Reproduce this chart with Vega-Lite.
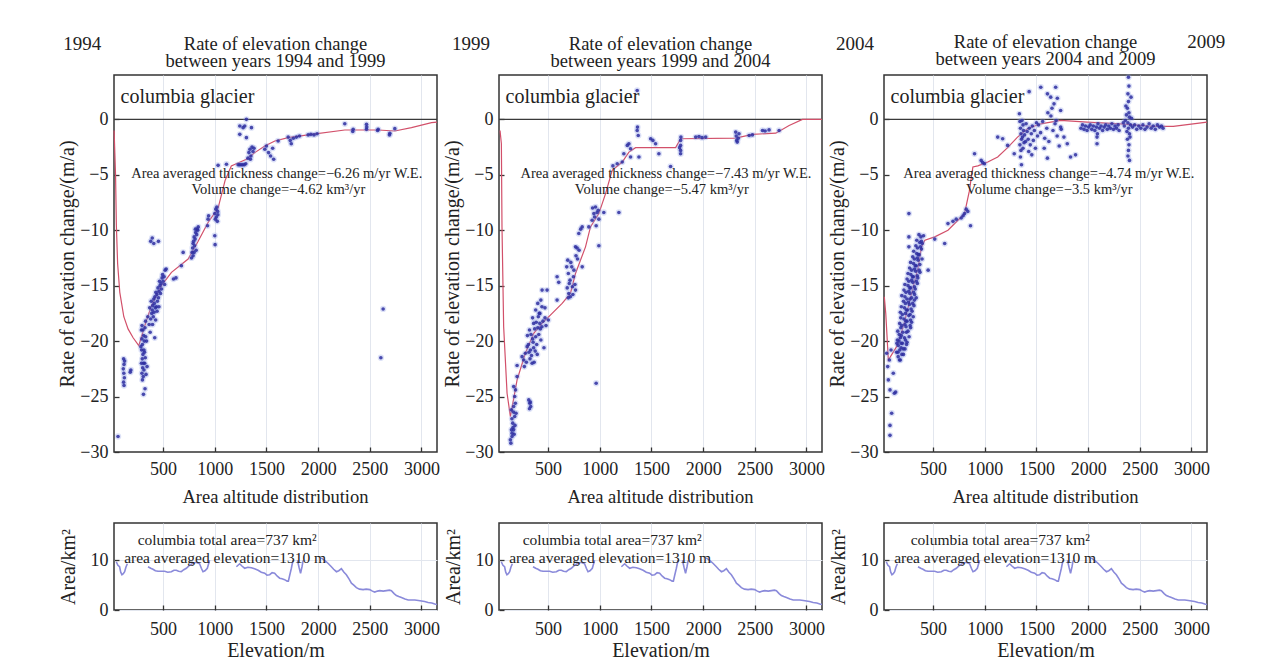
{
  "$schema": "https://vega.github.io/schema/vega-lite/v6.json",
  "background": "white",
  "padding": {"left": 57, "top": 31, "right": 5, "bottom": 5},
  "config": {
    "font": "Liberation Serif",
    "view": {"stroke": "#333333", "strokeWidth": 1.5},
    "axis": {
      "labelFont": "Liberation Serif", "labelFontSize": 18, "labelColor": "#222222",
      "titleFont": "Liberation Serif", "titleFontSize": 20, "titleFontWeight": "normal", "titleColor": "#222222",
      "gridColor": "#e2e6ee", "gridWidth": 1, "domain": false,
      "tickColor": "#333333", "tickSize": -5, "tickWidth": 1.3,
      "labelFlush": false, "labelOverlap": false, "format": "d"
    },
    "axisX": {"labelPadding": 13},
    "axisY": {"labelPadding": 11, "titlePadding": 2},
    "title": {"font": "Liberation Serif", "fontSize": 18.5, "fontWeight": "normal", "color": "#222222", "baseline": "bottom", "lineHeight": 17},
    "text": {"font": "Liberation Serif", "color": "#222222"}
  },
  "datasets": {
    "pts1": [
      {"elev":64,"rate":-28.6},{"elev":118,"rate":-21.6},{"elev":122,"rate":-22.1},{"elev":115,"rate":-22.5},{"elev":120,"rate":-22.9},{"elev":125,"rate":-23.3},{"elev":118,"rate":-23.7},{"elev":122,"rate":-24.0},{"elev":128,"rate":-21.8},{"elev":182,"rate":-22.8},{"elev":188,"rate":-22.6},
      {"elev":290,"rate":-19.0},{"elev":295,"rate":-19.8},{"elev":300,"rate":-20.3},{"elev":292,"rate":-20.8},{"elev":305,"rate":-21.2},{"elev":298,"rate":-21.6},{"elev":310,"rate":-22.0},{"elev":302,"rate":-22.4},{"elev":295,"rate":-22.9},{"elev":308,"rate":-23.2},{"elev":315,"rate":-22.6},{"elev":320,"rate":-21.0},{"elev":318,"rate":-20.0},{"elev":285,"rate":-20.5},{"elev":312,"rate":-19.5},{"elev":325,"rate":-18.8},{"elev":330,"rate":-18.2},{"elev":322,"rate":-22.0},{"elev":335,"rate":-23.0},{"elev":300,"rate":-23.5},{"elev":290,"rate":-22.0},{"elev":305,"rate":-19.0},{"elev":315,"rate":-20.8},{"elev":328,"rate":-21.5},{"elev":340,"rate":-20.0},{"elev":345,"rate":-22.3},{"elev":310,"rate":-24.8},{"elev":325,"rate":-24.3},{"elev":296,"rate":-18.6},{"elev":332,"rate":-19.6},
      {"elev":380,"rate":-18.0},{"elev":390,"rate":-17.5},{"elev":400,"rate":-16.8},{"elev":395,"rate":-17.2},{"elev":410,"rate":-16.2},{"elev":405,"rate":-17.8},{"elev":420,"rate":-16.0},{"elev":415,"rate":-16.6},{"elev":430,"rate":-15.6},{"elev":425,"rate":-17.0},{"elev":440,"rate":-15.8},{"elev":445,"rate":-16.4},{"elev":450,"rate":-15.2},{"elev":435,"rate":-16.9},{"elev":460,"rate":-15.5},{"elev":455,"rate":-16.1},{"elev":470,"rate":-15.0},{"elev":465,"rate":-14.6},{"elev":480,"rate":-14.8},{"elev":475,"rate":-15.7},{"elev":490,"rate":-14.3},{"elev":485,"rate":-15.3},{"elev":500,"rate":-14.6},{"elev":495,"rate":-14.0},{"elev":510,"rate":-14.2},{"elev":520,"rate":-13.6},{"elev":515,"rate":-14.9},{"elev":530,"rate":-13.5},{"elev":370,"rate":-17.0},{"elev":385,"rate":-16.4},{"elev":398,"rate":-18.5},{"elev":412,"rate":-17.4},{"elev":428,"rate":-18.1},{"elev":442,"rate":-17.3},{"elev":460,"rate":-16.9},{"elev":375,"rate":-19.2},{"elev":365,"rate":-18.5},{"elev":352,"rate":-17.8},
      {"elev":395,"rate":-10.7},{"elev":410,"rate":-11.2},{"elev":380,"rate":-11.0},{"elev":455,"rate":-11.0},{"elev":419,"rate":-19.7},
      {"elev":600,"rate":-14.4},{"elev":625,"rate":-14.3},{"elev":677,"rate":-13.2},{"elev":694,"rate":-12.0},
      {"elev":775,"rate":-12.5},{"elev":780,"rate":-12.0},{"elev":785,"rate":-11.6},{"elev":790,"rate":-11.2},{"elev":795,"rate":-11.0},{"elev":800,"rate":-10.6},{"elev":805,"rate":-11.4},{"elev":810,"rate":-10.8},{"elev":815,"rate":-10.2},{"elev":820,"rate":-11.8},{"elev":825,"rate":-10.4},{"elev":830,"rate":-9.9},{"elev":835,"rate":-10.0},{"elev":840,"rate":-9.7},{"elev":790,"rate":-12.3},{"elev":800,"rate":-12.0},{"elev":812,"rate":-9.9},
      {"elev":930,"rate":-9.6},{"elev":935,"rate":-9.0},{"elev":940,"rate":-8.7},
      {"elev":1000,"rate":-8.5},{"elev":1010,"rate":-8.1},{"elev":1015,"rate":-8.8},{"elev":1020,"rate":-7.9},{"elev":1028,"rate":-8.3},{"elev":1030,"rate":-8.6},{"elev":1005,"rate":-9.0},{"elev":1025,"rate":-9.2},{"elev":1000,"rate":-10.5},{"elev":1003,"rate":-11.3},
      {"elev":1032,"rate":-4.15},{"elev":1113,"rate":-4.05},{"elev":1226,"rate":-4.1},{"elev":1240,"rate":-4.1},{"elev":1255,"rate":-4.1},{"elev":1270,"rate":-4.1},{"elev":1285,"rate":-4.1},{"elev":1300,"rate":-4.0},
      {"elev":1306,"rate":0.0},{"elev":1242,"rate":-0.6},{"elev":1274,"rate":-0.75},{"elev":1355,"rate":-0.75},{"elev":1242,"rate":-1.35},{"elev":1306,"rate":-1.65},{"elev":1290,"rate":-0.6},
      {"elev":1330,"rate":-3.0},{"elev":1340,"rate":-2.7},{"elev":1350,"rate":-3.3},{"elev":1360,"rate":-2.5},{"elev":1370,"rate":-2.9},{"elev":1320,"rate":-3.5},{"elev":1345,"rate":-3.6},{"elev":1380,"rate":-2.6},
      {"elev":1484,"rate":-2.7},{"elev":1500,"rate":-2.4},{"elev":1520,"rate":-3.0},{"elev":1540,"rate":-3.3},{"elev":1560,"rate":-2.6},{"elev":1570,"rate":-3.6},{"elev":1613,"rate":-1.95},
      {"elev":1710,"rate":-1.6},{"elev":1730,"rate":-1.9},{"elev":1740,"rate":-2.2},{"elev":1760,"rate":-1.7},{"elev":1790,"rate":-1.6},{"elev":1820,"rate":-1.5},
      {"elev":1903,"rate":-1.4},{"elev":1930,"rate":-1.35},{"elev":1960,"rate":-1.4},{"elev":1990,"rate":-1.3},
      {"elev":2258,"rate":-0.4},{"elev":2339,"rate":-0.9},{"elev":2335,"rate":-1.1},{"elev":2468,"rate":-0.45},{"elev":2468,"rate":-0.9},{"elev":2470,"rate":-0.7},{"elev":2581,"rate":-0.9},{"elev":2575,"rate":-1.0},{"elev":2694,"rate":-1.26},{"elev":2690,"rate":-1.4},{"elev":2742,"rate":-0.84},
      {"elev":2629,"rate":-17.1},{"elev":2607,"rate":-21.5}
    ],
    "pts2": [
      {"elev":135,"rate":-28.9},{"elev":151,"rate":-28.6},{"elev":167,"rate":-28.0},{"elev":158,"rate":-27.4},{"elev":177,"rate":-26.8},{"elev":145,"rate":-26.2},{"elev":167,"rate":-25.9},{"elev":183,"rate":-25.6},{"elev":190,"rate":-26.5},{"elev":151,"rate":-28.3},{"elev":140,"rate":-29.2},{"elev":160,"rate":-27.8},{"elev":172,"rate":-28.4},{"elev":150,"rate":-27.0},{"elev":165,"rate":-26.4},{"elev":180,"rate":-27.6},{"elev":145,"rate":-28.0},
      {"elev":167,"rate":-24.1},{"elev":200,"rate":-23.2},{"elev":177,"rate":-25.0},{"elev":185,"rate":-24.4},{"elev":200,"rate":-22.2},
      {"elev":313,"rate":-25.3},{"elev":323,"rate":-25.6},{"elev":332,"rate":-25.9},{"elev":320,"rate":-26.1},{"elev":328,"rate":-25.5},
      {"elev":264,"rate":-21.7},{"elev":280,"rate":-21.1},{"elev":297,"rate":-20.5},{"elev":248,"rate":-21.4},{"elev":270,"rate":-22.3},{"elev":290,"rate":-21.9},
      {"elev":300,"rate":-19.5},{"elev":310,"rate":-20.3},{"elev":320,"rate":-19.0},{"elev":330,"rate":-20.8},{"elev":340,"rate":-21.3},{"elev":350,"rate":-19.8},{"elev":360,"rate":-20.6},{"elev":370,"rate":-18.9},{"elev":345,"rate":-22.0},{"elev":335,"rate":-19.4},{"elev":315,"rate":-21.0},{"elev":325,"rate":-21.6},{"elev":355,"rate":-20.1},{"elev":365,"rate":-21.9},{"elev":380,"rate":-19.6},{"elev":390,"rate":-20.3},{"elev":400,"rate":-18.8},{"elev":410,"rate":-19.4},{"elev":420,"rate":-18.4},{"elev":430,"rate":-19.9},{"elev":440,"rate":-18.7},{"elev":450,"rate":-18.2},{"elev":460,"rate":-20.6},{"elev":375,"rate":-20.9},{"elev":385,"rate":-18.3},{"elev":395,"rate":-21.2},{"elev":405,"rate":-17.8},{"elev":415,"rate":-17.5},{"elev":425,"rate":-18.9},{"elev":470,"rate":-17.9},
      {"elev":350,"rate":-17.9},{"elev":380,"rate":-17.2},{"elev":400,"rate":-16.6},{"elev":420,"rate":-17.5},{"elev":440,"rate":-16.9},{"elev":360,"rate":-18.4},{"elev":430,"rate":-16.3},
      {"elev":470,"rate":-17.0},{"elev":502,"rate":-18.1},{"elev":480,"rate":-18.6},{"elev":490,"rate":-15.4},{"elev":442,"rate":-15.4},{"elev":587,"rate":-16.3},{"elev":587,"rate":-14.2},{"elev":603,"rate":-14.7},
      {"elev":680,"rate":-13.3},{"elev":696,"rate":-13.9},{"elev":712,"rate":-14.5},{"elev":690,"rate":-12.7},{"elev":729,"rate":-13.3},{"elev":745,"rate":-14.2},{"elev":735,"rate":-15.1},{"elev":765,"rate":-15.4},{"elev":700,"rate":-15.7},{"elev":720,"rate":-12.9},{"elev":705,"rate":-14.8},{"elev":750,"rate":-13.6},{"elev":685,"rate":-15.2},{"elev":760,"rate":-14.9},{"elev":740,"rate":-15.8},{"elev":715,"rate":-16.0},{"elev":695,"rate":-16.1},
      {"elev":765,"rate":-11.5},{"elev":781,"rate":-11.6},{"elev":770,"rate":-12.3},{"elev":785,"rate":-12.6},{"elev":800,"rate":-11.8},{"elev":797,"rate":-10.3},{"elev":830,"rate":-9.7},{"elev":815,"rate":-9.9},{"elev":830,"rate":-13.3},
      {"elev":894,"rate":-9.7},{"elev":926,"rate":-9.1},{"elev":943,"rate":-8.5},{"elev":959,"rate":-7.9},{"elev":975,"rate":-8.4},{"elev":991,"rate":-9.0},{"elev":965,"rate":-9.6},{"elev":930,"rate":-8.0},{"elev":950,"rate":-8.8},{"elev":985,"rate":-8.2},
      {"elev":1039,"rate":-8.4},{"elev":991,"rate":-11.4},{"elev":1185,"rate":-8.4},{"elev":965,"rate":-23.8},
      {"elev":1127,"rate":-4.2},{"elev":1169,"rate":-4.0},{"elev":1217,"rate":-3.85},{"elev":1233,"rate":-3.1},{"elev":1266,"rate":-2.35},{"elev":1298,"rate":-2.65},{"elev":1282,"rate":-2.2},{"elev":1298,"rate":-3.4},{"elev":1362,"rate":-1.0},{"elev":1372,"rate":-1.45},{"elev":1365,"rate":-0.7},{"elev":1379,"rate":-3.4},{"elev":1492,"rate":-1.75},{"elev":1540,"rate":-2.2},{"elev":1514,"rate":-1.9},{"elev":1572,"rate":-3.1},{"elev":1685,"rate":-4.25},
      {"elev":1782,"rate":-1.9},{"elev":1782,"rate":-2.35},{"elev":1782,"rate":-2.8},{"elev":1785,"rate":-1.6},{"elev":1782,"rate":-3.1},{"elev":1772,"rate":-2.55},
      {"elev":1928,"rate":-1.6},{"elev":1960,"rate":-1.55},{"elev":1990,"rate":-1.65},{"elev":2025,"rate":-1.6},
      {"elev":2315,"rate":-1.15},{"elev":2320,"rate":-1.5},{"elev":2325,"rate":-1.9},{"elev":2330,"rate":-2.05},{"elev":2347,"rate":-1.3},{"elev":2340,"rate":-1.7},
      {"elev":2445,"rate":-1.45},{"elev":2477,"rate":-1.4},{"elev":2574,"rate":-1.0},{"elev":2600,"rate":-1.05},{"elev":2638,"rate":-0.95},{"elev":2735,"rate":-1.0},{"elev":1362,"rate":2.6}
    ],
    "pts3": [
      {"elev":51,"rate":-21.1},{"elev":61,"rate":-22.3},{"elev":67,"rate":-23.5},{"elev":77,"rate":-21.7},{"elev":83,"rate":-24.4},{"elev":93,"rate":-20.8},{"elev":83,"rate":-27.6},{"elev":83,"rate":-28.5},{"elev":99,"rate":-26.5},{"elev":125,"rate":-24.7},{"elev":138,"rate":-24.6},{"elev":115,"rate":-22.9},
      {"elev":150,"rate":-20.2},{"elev":160,"rate":-21.0},{"elev":175,"rate":-21.7},{"elev":190,"rate":-20.6},{"elev":170,"rate":-20.0},
      {"elev":162,"rate":-21.4},{"elev":183,"rate":-21.7},{"elev":213,"rate":-21.2},
      {"elev":147,"rate":-21.0},{"elev":178,"rate":-20.8},{"elev":198,"rate":-21.2},{"elev":228,"rate":-20.7},
      {"elev":163,"rate":-20.4},{"elev":192,"rate":-20.2},{"elev":212,"rate":-20.7},{"elev":243,"rate":-20.3},
      {"elev":154,"rate":-19.9},{"elev":183,"rate":-19.7},{"elev":203,"rate":-20.2},{"elev":232,"rate":-19.9},{"elev":248,"rate":-20.1},
      {"elev":172,"rate":-19.4},{"elev":193,"rate":-19.5},{"elev":223,"rate":-19.7},{"elev":242,"rate":-19.2},{"elev":268,"rate":-19.6},
      {"elev":158,"rate":-19.1},{"elev":188,"rate":-18.8},{"elev":207,"rate":-19.2},{"elev":238,"rate":-18.7},{"elev":257,"rate":-19.1},{"elev":283,"rate":-18.8},
      {"elev":177,"rate":-18.4},{"elev":197,"rate":-18.6},{"elev":228,"rate":-18.5},{"elev":247,"rate":-18.2},{"elev":278,"rate":-18.6},{"elev":292,"rate":-18.3},
      {"elev":187,"rate":-17.9},{"elev":218,"rate":-18.0},{"elev":237,"rate":-18.2},{"elev":265,"rate":-17.7},{"elev":282,"rate":-18.1},{"elev":308,"rate":-17.8},
      {"elev":183,"rate":-17.4},{"elev":202,"rate":-17.6},{"elev":233,"rate":-17.5},{"elev":252,"rate":-17.2},{"elev":278,"rate":-17.6},{"elev":297,"rate":-17.3},
      {"elev":192,"rate":-16.9},{"elev":223,"rate":-17.0},{"elev":242,"rate":-17.2},{"elev":271,"rate":-16.7},{"elev":287,"rate":-17.1},{"elev":315,"rate":-16.8},
      {"elev":213,"rate":-16.4},{"elev":232,"rate":-16.6},{"elev":261,"rate":-16.5},{"elev":277,"rate":-16.2},{"elev":303,"rate":-16.6},{"elev":319,"rate":-16.3},
      {"elev":197,"rate":-15.9},{"elev":228,"rate":-16.0},{"elev":247,"rate":-16.2},{"elev":275,"rate":-15.7},{"elev":292,"rate":-16.1},{"elev":321,"rate":-15.8},{"elev":337,"rate":-16.1},
      {"elev":218,"rate":-15.4},{"elev":237,"rate":-15.6},{"elev":265,"rate":-15.5},{"elev":282,"rate":-15.2},{"elev":311,"rate":-15.6},{"elev":327,"rate":-15.3},
      {"elev":227,"rate":-14.9},{"elev":258,"rate":-15.0},{"elev":275,"rate":-15.2},{"elev":303,"rate":-14.7},{"elev":319,"rate":-15.1},{"elev":348,"rate":-14.8},
      {"elev":248,"rate":-14.4},{"elev":265,"rate":-14.6},{"elev":293,"rate":-14.5},{"elev":309,"rate":-14.2},{"elev":338,"rate":-14.6},{"elev":352,"rate":-14.3},
      {"elev":257,"rate":-13.9},{"elev":285,"rate":-14.0},{"elev":302,"rate":-14.2},{"elev":331,"rate":-13.7},{"elev":347,"rate":-14.1},{"elev":373,"rate":-13.8},
      {"elev":273,"rate":-13.4},{"elev":292,"rate":-13.6},{"elev":321,"rate":-13.5},{"elev":337,"rate":-13.2},{"elev":365,"rate":-13.6},
      {"elev":282,"rate":-12.9},{"elev":311,"rate":-13.0},{"elev":327,"rate":-13.2},{"elev":355,"rate":-12.7},{"elev":372,"rate":-13.1},
      {"elev":303,"rate":-12.4},{"elev":319,"rate":-12.6},{"elev":348,"rate":-12.5},{"elev":365,"rate":-12.2},{"elev":393,"rate":-12.6},
      {"elev":312,"rate":-11.9},{"elev":341,"rate":-12.1},{"elev":357,"rate":-12.2},{"elev":388,"rate":-11.7},
      {"elev":333,"rate":-11.4},{"elev":349,"rate":-11.6},{"elev":378,"rate":-11.5},{"elev":395,"rate":-11.2},
      {"elev":342,"rate":-10.9},{"elev":371,"rate":-11.1},{"elev":387,"rate":-11.0},
      {"elev":363,"rate":-10.4},{"elev":382,"rate":-10.6},{"elev":408,"rate":-10.5},
      {"elev":266,"rate":-8.5},{"elev":266,"rate":-10.6},{"elev":266,"rate":-11.5},{"elev":452,"rate":-13.6},{"elev":516,"rate":-10.8},{"elev":612,"rate":-11.2},
      {"elev":644,"rate":-9.4},{"elev":692,"rate":-9.2},{"elev":724,"rate":-9.0},{"elev":772,"rate":-8.9},{"elev":804,"rate":-8.5},{"elev":836,"rate":-8.3},{"elev":862,"rate":-9.6},{"elev":790,"rate":-8.7},{"elev":820,"rate":-8.1},
      {"elev":901,"rate":-3.1},{"elev":965,"rate":-3.7},{"elev":997,"rate":-4.0},{"elev":980,"rate":-3.9},
      {"elev":1125,"rate":-1.6},{"elev":1173,"rate":-1.75},{"elev":1221,"rate":-2.35},{"elev":1285,"rate":-3.1},
      {"elev":1335,"rate":0.5},{"elev":1340,"rate":-0.2},{"elev":1345,"rate":-0.8},{"elev":1350,"rate":-1.3},{"elev":1355,"rate":-1.8},{"elev":1340,"rate":-2.3},{"elev":1350,"rate":-2.8},{"elev":1345,"rate":-3.4},{"elev":1355,"rate":-4.1},{"elev":1370,"rate":-0.5},{"elev":1375,"rate":-1.0},{"elev":1365,"rate":-1.6},{"elev":1380,"rate":-2.1},{"elev":1360,"rate":-0.1},{"elev":1370,"rate":-2.6},{"elev":1385,"rate":-1.4},
      {"elev":1400,"rate":-0.4},{"elev":1410,"rate":-1.1},{"elev":1420,"rate":-1.8},{"elev":1430,"rate":-0.8},{"elev":1440,"rate":-2.3},{"elev":1450,"rate":-1.3},{"elev":1460,"rate":-0.6},{"elev":1470,"rate":-1.9},{"elev":1480,"rate":-1.0},{"elev":1490,"rate":-2.6},{"elev":1500,"rate":-0.3},{"elev":1510,"rate":-1.5},{"elev":1395,"rate":-2.0},{"elev":1425,"rate":-2.9},{"elev":1455,"rate":-3.2},
      {"elev":1429,"rate":2.5},{"elev":1542,"rate":2.9},{"elev":1606,"rate":2.3},{"elev":1638,"rate":2.0},{"elev":1686,"rate":2.9},{"elev":1702,"rate":1.9},{"elev":1670,"rate":1.4},{"elev":1734,"rate":0.8},
      {"elev":1520,"rate":-0.5},{"elev":1540,"rate":-1.2},{"elev":1560,"rate":-0.2},{"elev":1580,"rate":-1.7},{"elev":1600,"rate":-0.8},{"elev":1620,"rate":-2.0},{"elev":1640,"rate":0.3},{"elev":1660,"rate":-1.0},{"elev":1680,"rate":-0.4},{"elev":1700,"rate":-1.5},{"elev":1720,"rate":-2.4},{"elev":1740,"rate":-0.9},{"elev":1610,"rate":0.6},{"elev":1650,"rate":1.0},{"elev":1690,"rate":-0.1},{"elev":1575,"rate":-2.6},
      {"elev":1606,"rate":-3.5},{"elev":1830,"rate":-3.4},{"elev":1878,"rate":-3.2},{"elev":1798,"rate":-2.2},{"elev":1734,"rate":-0.7},{"elev":1766,"rate":-1.6},
      {"elev":1930,"rate":-0.8},{"elev":1945,"rate":-0.5},{"elev":1960,"rate":-0.9},{"elev":1975,"rate":-0.6},{"elev":1990,"rate":-1.0},{"elev":2005,"rate":-0.7},{"elev":2020,"rate":-0.5},{"elev":2035,"rate":-0.9},{"elev":2050,"rate":-0.6},{"elev":2065,"rate":-1.0},{"elev":2080,"rate":-0.7},{"elev":2095,"rate":-0.4},{"elev":2110,"rate":-0.8},{"elev":2125,"rate":-0.6},{"elev":2140,"rate":-1.0},{"elev":2155,"rate":-0.7},{"elev":2170,"rate":-0.5},{"elev":2185,"rate":-0.9},{"elev":2200,"rate":-0.6},{"elev":2215,"rate":-0.8},{"elev":2230,"rate":-0.4},{"elev":2245,"rate":-0.9},{"elev":2260,"rate":-0.6},{"elev":2275,"rate":-0.8},{"elev":2290,"rate":-0.5},{"elev":2300,"rate":-1.0},
      {"elev":2086,"rate":-2.2},{"elev":2086,"rate":-1.6},{"elev":2090,"rate":-1.3},
      {"elev":2390,"rate":3.8},{"elev":2395,"rate":3.0},{"elev":2385,"rate":2.3},{"elev":2390,"rate":1.6},{"elev":2380,"rate":1.0},{"elev":2395,"rate":0.6},{"elev":2400,"rate":0.2},{"elev":2385,"rate":-0.3},{"elev":2390,"rate":-0.8},{"elev":2400,"rate":-1.3},{"elev":2380,"rate":-1.8},{"elev":2395,"rate":-2.3},{"elev":2390,"rate":-2.8},{"elev":2385,"rate":-3.3},{"elev":2400,"rate":-3.7},{"elev":2370,"rate":0.4},{"elev":2410,"rate":-0.5},{"elev":2360,"rate":-0.1},{"elev":2420,"rate":0.1},{"elev":2350,"rate":-0.6},{"elev":2375,"rate":-1.1},{"elev":2405,"rate":-1.6},{"elev":2365,"rate":1.2},{"elev":2415,"rate":2.0},{"elev":2340,"rate":-0.3},
      {"elev":2430,"rate":-0.7},{"elev":2450,"rate":-0.5},{"elev":2470,"rate":-0.9},{"elev":2490,"rate":-0.6},{"elev":2510,"rate":-0.8},{"elev":2530,"rate":-0.5},{"elev":2550,"rate":-0.9},{"elev":2570,"rate":-0.7},{"elev":2590,"rate":-0.4},{"elev":2610,"rate":-0.8},{"elev":2630,"rate":-0.6},{"elev":2650,"rate":-0.9},{"elev":2670,"rate":-0.5},{"elev":2690,"rate":-0.7},{"elev":2710,"rate":-0.6},{"elev":2725,"rate":-0.8}
    ],
    "fit1": [
      {"elev":26,"rate":-1.0},{"elev":40,"rate":-5.0},{"elev":48,"rate":-9.6},{"elev":60,"rate":-13.0},{"elev":81,"rate":-15.6},{"elev":120,"rate":-17.8},{"elev":161,"rate":-18.9},{"elev":210,"rate":-19.7},{"elev":265,"rate":-20.4},{"elev":323,"rate":-18.6},{"elev":387,"rate":-16.8},{"elev":484,"rate":-15.0},{"elev":581,"rate":-13.8},{"elev":742,"rate":-12.6},{"elev":839,"rate":-11.0},{"elev":935,"rate":-9.3},{"elev":1032,"rate":-8.0},{"elev":1100,"rate":-5.5},{"elev":1160,"rate":-4.2},{"elev":1306,"rate":-3.6},{"elev":1387,"rate":-3.0},{"elev":1484,"rate":-2.4},{"elev":1581,"rate":-1.95},{"elev":1710,"rate":-1.65},{"elev":1936,"rate":-1.35},{"elev":2258,"rate":-0.96},{"elev":2581,"rate":-0.96},{"elev":2742,"rate":-1.05},{"elev":2903,"rate":-0.75},{"elev":3097,"rate":-0.3},{"elev":3150,"rate":-0.25}
    ],
    "fit2": [
      {"elev":35,"rate":-1.0},{"elev":48,"rate":-2.2},{"elev":54,"rate":-9.7},{"elev":70,"rate":-18.7},{"elev":103,"rate":-24.7},{"elev":135,"rate":-26.8},{"elev":200,"rate":-23.5},{"elev":280,"rate":-21.1},{"elev":361,"rate":-19.3},{"elev":442,"rate":-18.4},{"elev":539,"rate":-17.5},{"elev":636,"rate":-16.6},{"elev":716,"rate":-15.7},{"elev":765,"rate":-13.9},{"elev":862,"rate":-11.5},{"elev":910,"rate":-9.7},{"elev":991,"rate":-8.5},{"elev":1056,"rate":-6.7},{"elev":1120,"rate":-4.6},{"elev":1217,"rate":-3.85},{"elev":1282,"rate":-2.95},{"elev":1346,"rate":-2.55},{"elev":1734,"rate":-2.55},{"elev":1782,"rate":-1.75},{"elev":2315,"rate":-1.7},{"elev":2477,"rate":-1.35},{"elev":2703,"rate":-1.25},{"elev":2832,"rate":-0.55},{"elev":2961,"rate":0.0},{"elev":3150,"rate":0.0}
    ],
    "fit3": [
      {"elev":28,"rate":-16.0},{"elev":42,"rate":-17.5},{"elev":67,"rate":-21.7},{"elev":147,"rate":-20.5},{"elev":212,"rate":-18.7},{"elev":292,"rate":-15.7},{"elev":356,"rate":-13.3},{"elev":388,"rate":-11.5},{"elev":420,"rate":-10.9},{"elev":516,"rate":-10.6},{"elev":644,"rate":-10.0},{"elev":740,"rate":-9.1},{"elev":804,"rate":-8.5},{"elev":850,"rate":-6.5},{"elev":885,"rate":-4.3},{"elev":933,"rate":-4.2},{"elev":1029,"rate":-3.85},{"elev":1125,"rate":-3.4},{"elev":1221,"rate":-2.55},{"elev":1317,"rate":-1.6},{"elev":1413,"rate":-0.85},{"elev":1542,"rate":-0.4},{"elev":1734,"rate":-0.1},{"elev":1990,"rate":-0.25},{"elev":2311,"rate":-0.4},{"elev":2631,"rate":-0.63},{"elev":2824,"rate":-0.63},{"elev":3150,"rate":-0.25}
    ],
    "area": [
      {"seg":"a","elev":47,"area":9.7},{"seg":"a","elev":63,"area":9.0},{"seg":"a","elev":79,"area":8.7},{"seg":"a","elev":90,"area":7.6},{"seg":"a","elev":102,"area":7.1},{"seg":"a","elev":115,"area":7.3},{"seg":"a","elev":128,"area":7.7},{"seg":"a","elev":140,"area":8.6},{"seg":"a","elev":154,"area":9.3},
      {"seg":"b","elev":354,"area":8.7},{"seg":"b","elev":380,"area":8.4},{"seg":"b","elev":402,"area":8.2},{"seg":"b","elev":425,"area":7.9},{"seg":"b","elev":451,"area":7.8},{"seg":"b","elev":480,"area":7.8},{"seg":"b","elev":515,"area":7.8},{"seg":"b","elev":545,"area":7.6},{"seg":"b","elev":580,"area":7.7},{"seg":"b","elev":605,"area":8.0},{"seg":"b","elev":628,"area":8.0},{"seg":"b","elev":650,"area":7.8},{"seg":"b","elev":676,"area":7.7},{"seg":"b","elev":700,"area":8.1},{"seg":"b","elev":725,"area":8.4},{"seg":"b","elev":757,"area":9.0},{"seg":"b","elev":790,"area":9.4},{"seg":"b","elev":820,"area":9.6},{"seg":"b","elev":853,"area":9.3},{"seg":"b","elev":870,"area":8.4},{"seg":"b","elev":886,"area":7.7},{"seg":"b","elev":905,"area":7.9},{"seg":"b","elev":928,"area":8.4},{"seg":"b","elev":950,"area":10.0},
      {"seg":"c","elev":1209,"area":8.7},{"seg":"c","elev":1241,"area":9.3},{"seg":"c","elev":1265,"area":8.8},{"seg":"c","elev":1289,"area":8.4},{"seg":"c","elev":1320,"area":8.6},{"seg":"c","elev":1354,"area":8.5},{"seg":"c","elev":1385,"area":8.3},{"seg":"c","elev":1419,"area":8.0},{"seg":"c","elev":1450,"area":7.6},{"seg":"c","elev":1483,"area":7.4},{"seg":"c","elev":1505,"area":7.0},{"seg":"c","elev":1531,"area":7.1},{"seg":"c","elev":1555,"area":7.5},{"seg":"c","elev":1579,"area":7.4},{"seg":"c","elev":1605,"area":6.8},{"seg":"c","elev":1628,"area":6.4},{"seg":"c","elev":1650,"area":6.3},{"seg":"c","elev":1676,"area":6.1},{"seg":"c","elev":1700,"area":5.8},{"seg":"c","elev":1712,"area":5.8},{"seg":"c","elev":1725,"area":7.0},{"seg":"c","elev":1741,"area":8.4},{"seg":"c","elev":1757,"area":10.0},
      {"seg":"d","elev":1800,"area":10.0},{"seg":"d","elev":1815,"area":8.6},{"seg":"d","elev":1830,"area":7.4},{"seg":"d","elev":1845,"area":8.8},{"seg":"d","elev":1855,"area":10.0},
      {"seg":"e","elev":2030,"area":10.5},{"seg":"e","elev":2063,"area":10.0},{"seg":"e","elev":2095,"area":9.4},{"seg":"e","elev":2128,"area":8.7},{"seg":"e","elev":2150,"area":8.2},{"seg":"e","elev":2177,"area":7.7},{"seg":"e","elev":2200,"area":7.9},{"seg":"e","elev":2225,"area":8.3},{"seg":"e","elev":2250,"area":7.6},{"seg":"e","elev":2273,"area":7.1},{"seg":"e","elev":2300,"area":6.2},{"seg":"e","elev":2322,"area":5.4},{"seg":"e","elev":2345,"area":5.0},{"seg":"e","elev":2370,"area":4.5},{"seg":"e","elev":2400,"area":4.2},{"seg":"e","elev":2435,"area":4.1},{"seg":"e","elev":2465,"area":4.2},{"seg":"e","elev":2499,"area":4.1},{"seg":"e","elev":2525,"area":3.8},{"seg":"e","elev":2547,"area":3.6},{"seg":"e","elev":2575,"area":3.8},{"seg":"e","elev":2596,"area":3.9},{"seg":"e","elev":2630,"area":3.8},{"seg":"e","elev":2661,"area":3.9},{"seg":"e","elev":2690,"area":4.0},{"seg":"e","elev":2709,"area":3.9},{"seg":"e","elev":2735,"area":3.3},{"seg":"e","elev":2757,"area":2.9},{"seg":"e","elev":2780,"area":2.7},{"seg":"e","elev":2806,"area":2.5},{"seg":"e","elev":2840,"area":2.2},{"seg":"e","elev":2871,"area":2.0},{"seg":"e","elev":2900,"area":2.0},{"seg":"e","elev":2935,"area":2.0},{"seg":"e","elev":2970,"area":1.9},{"seg":"e","elev":3000,"area":1.8},{"seg":"e","elev":3030,"area":1.7},{"seg":"e","elev":3064,"area":1.5},{"seg":"e","elev":3100,"area":1.4},{"seg":"e","elev":3128,"area":1.2},{"seg":"e","elev":3150,"area":1.1}
    ]
  },
  "columns": 3,
  "spacing": {"row": 71, "column": 62},
  "bounds": "flush",
  "concat": [
    {
      "width": 323, "height": 377,
      "title": {"text": ["Rate of elevation change", "between years 1994 and 1999"], "offset": -36},
      "layer": [
        {"data": {"values": [{}]}, "mark": {"type": "rule", "color": "#3a3a3a", "strokeWidth": 1.2}, "encoding": {"y": {"datum": 0, "type": "quantitative"}}},
        {"data": {"name": "fit1"}, "mark": {"type": "line", "color": "#d2506a", "strokeWidth": 1.2},
         "encoding": {
           "x": {"field": "elev", "type": "quantitative", "scale": {"domain": [25, 3150], "nice": false, "zero": false}, "axis": {"values": [500, 1000, 1500, 2000, 2500, 3000], "title": null}},
           "y": {"field": "rate", "type": "quantitative", "scale": {"domain": [-30, 4], "nice": false, "zero": false}, "axis": {"values": [-30, -25, -20, -15, -10, -5, 0], "title": "Rate of elevation change/(m/a)"}}}},
        {"data": {"name": "pts1"}, "mark": {"type": "circle", "size": 40, "color": "#8c9be6", "opacity": 0.3}, "encoding": {"x": {"field": "elev", "type": "quantitative"}, "y": {"field": "rate", "type": "quantitative"}}},
        {"data": {"name": "pts1"}, "mark": {"type": "circle", "size": 13, "color": "#2e2ea0", "opacity": 0.85}, "encoding": {"x": {"field": "elev", "type": "quantitative"}, "y": {"field": "rate", "type": "quantitative"}}},
        {"data": {"values": [{"label": "columbia glacier"}]}, "mark": {"type": "text", "align": "left", "baseline": "middle", "fontSize": 20}, "encoding": {"x": {"datum": 88}, "y": {"datum": 2.0}, "text": {"field": "label"}}},
        {"data": {"values": [{"label": "Area averaged thickness change=−6.26 m/yr W.E."}]}, "mark": {"type": "text", "align": "center", "baseline": "middle", "fontSize": 14.5}, "encoding": {"x": {"datum": 1600}, "y": {"datum": -4.95}, "text": {"field": "label"}}},
        {"data": {"values": [{"label": "Volume change=−4.62 km³/yr"}]}, "mark": {"type": "text", "align": "center", "baseline": "middle", "fontSize": 14.5}, "encoding": {"x": {"datum": 1615}, "y": {"datum": -6.35}, "text": {"field": "label"}}},
        {"data": {"values": [{"label": "1994"}]}, "mark": {"type": "text", "align": "center", "baseline": "middle", "fontSize": 19}, "encoding": {"x": {"datum": -282}, "y": {"datum": 6.8}, "text": {"field": "label"}}}
      ]
    },
    {
      "width": 323, "height": 377,
      "title": {"text": ["Rate of elevation change", "between years 1999 and 2004"], "offset": -36},
      "layer": [
        {"data": {"values": [{}]}, "mark": {"type": "rule", "color": "#3a3a3a", "strokeWidth": 1.2}, "encoding": {"y": {"datum": 0, "type": "quantitative"}}},
        {"data": {"name": "fit2"}, "mark": {"type": "line", "color": "#d2506a", "strokeWidth": 1.2},
         "encoding": {
           "x": {"field": "elev", "type": "quantitative", "scale": {"domain": [25, 3150], "nice": false, "zero": false}, "axis": {"values": [500, 1000, 1500, 2000, 2500, 3000], "title": null}},
           "y": {"field": "rate", "type": "quantitative", "scale": {"domain": [-30, 4], "nice": false, "zero": false}, "axis": {"values": [-30, -25, -20, -15, -10, -5, 0], "title": "Rate of elevation change/(m/a)"}}}},
        {"data": {"name": "pts2"}, "mark": {"type": "circle", "size": 40, "color": "#8c9be6", "opacity": 0.3}, "encoding": {"x": {"field": "elev", "type": "quantitative"}, "y": {"field": "rate", "type": "quantitative"}}},
        {"data": {"name": "pts2"}, "mark": {"type": "circle", "size": 13, "color": "#2e2ea0", "opacity": 0.85}, "encoding": {"x": {"field": "elev", "type": "quantitative"}, "y": {"field": "rate", "type": "quantitative"}}},
        {"data": {"values": [{"label": "columbia glacier"}]}, "mark": {"type": "text", "align": "left", "baseline": "middle", "fontSize": 20}, "encoding": {"x": {"datum": 88}, "y": {"datum": 2.0}, "text": {"field": "label"}}},
        {"data": {"values": [{"label": "Area averaged thickness change=−7.43 m/yr W.E."}]}, "mark": {"type": "text", "align": "center", "baseline": "middle", "fontSize": 14.5}, "encoding": {"x": {"datum": 1640}, "y": {"datum": -4.95}, "text": {"field": "label"}}},
        {"data": {"values": [{"label": "Volume change=−5.47 km³/yr"}]}, "mark": {"type": "text", "align": "center", "baseline": "middle", "fontSize": 14.5}, "encoding": {"x": {"datum": 1600}, "y": {"datum": -6.35}, "text": {"field": "label"}}},
        {"data": {"values": [{"label": "1999"}]}, "mark": {"type": "text", "align": "center", "baseline": "middle", "fontSize": 19}, "encoding": {"x": {"datum": -246}, "y": {"datum": 6.8}, "text": {"field": "label"}}}
      ]
    },
    {
      "width": 323, "height": 377,
      "title": {"text": ["Rate of elevation change", "between years 2004 and 2009"], "offset": -36},
      "layer": [
        {"data": {"values": [{}]}, "mark": {"type": "rule", "color": "#3a3a3a", "strokeWidth": 1.2}, "encoding": {"y": {"datum": 0, "type": "quantitative"}}},
        {"data": {"name": "fit3"}, "mark": {"type": "line", "color": "#d2506a", "strokeWidth": 1.2},
         "encoding": {
           "x": {"field": "elev", "type": "quantitative", "scale": {"domain": [25, 3150], "nice": false, "zero": false}, "axis": {"values": [500, 1000, 1500, 2000, 2500, 3000], "title": null}},
           "y": {"field": "rate", "type": "quantitative", "scale": {"domain": [-30, 4], "nice": false, "zero": false}, "axis": {"values": [-30, -25, -20, -15, -10, -5, 0], "title": "Rate of elevation change/(m/a)"}}}},
        {"data": {"name": "pts3"}, "mark": {"type": "circle", "size": 40, "color": "#8c9be6", "opacity": 0.3}, "encoding": {"x": {"field": "elev", "type": "quantitative"}, "y": {"field": "rate", "type": "quantitative"}}},
        {"data": {"name": "pts3"}, "mark": {"type": "circle", "size": 13, "color": "#2e2ea0", "opacity": 0.85}, "encoding": {"x": {"field": "elev", "type": "quantitative"}, "y": {"field": "rate", "type": "quantitative"}}},
        {"data": {"values": [{"label": "columbia glacier"}]}, "mark": {"type": "text", "align": "left", "baseline": "middle", "fontSize": 20}, "encoding": {"x": {"datum": 88}, "y": {"datum": 2.0}, "text": {"field": "label"}}},
        {"data": {"values": [{"label": "Area averaged thickness change=−4.74 m/yr W.E."}]}, "mark": {"type": "text", "align": "center", "baseline": "middle", "fontSize": 14.5}, "encoding": {"x": {"datum": 1620}, "y": {"datum": -4.95}, "text": {"field": "label"}}},
        {"data": {"values": [{"label": "Volume change=−3.5 km³/yr"}]}, "mark": {"type": "text", "align": "center", "baseline": "middle", "fontSize": 14.5}, "encoding": {"x": {"datum": 1625}, "y": {"datum": -6.35}, "text": {"field": "label"}}},
        {"data": {"values": [{"label": "2004"}]}, "mark": {"type": "text", "align": "center", "baseline": "middle", "fontSize": 19}, "encoding": {"x": {"datum": -256}, "y": {"datum": 6.8}, "text": {"field": "label"}}},
        {"data": {"values": [{"label": "2009"}]}, "mark": {"type": "text", "align": "center", "baseline": "middle", "fontSize": 19}, "encoding": {"x": {"datum": 3142}, "y": {"datum": 7.0}, "text": {"field": "label"}}}
      ]
    },
    {
      "width": 323, "height": 87,
      "title": {"text": "Area altitude distribution", "offset": 17},
      "layer": [
        {"data": {"name": "area"}, "mark": {"type": "line", "color": "#8a8ada", "strokeWidth": 1.6},
         "encoding": {
           "x": {"field": "elev", "type": "quantitative", "scale": {"domain": [25, 3150], "nice": false, "zero": false}, "axis": {"values": [500, 1000, 1500, 2000, 2500, 3000], "title": "Elevation/m", "labelPadding": 15, "titlePadding": 2}},
           "y": {"field": "area", "type": "quantitative", "scale": {"domain": [0, 17.5], "nice": false}, "axis": {"values": [0, 10], "title": "Area/km²", "titlePadding": 12}},
           "detail": {"field": "seg"}}},
        {"data": {"values": [{"label": "columbia total area=737 km²"}]}, "mark": {"type": "text", "align": "center", "baseline": "middle", "fontSize": 15.5}, "encoding": {"x": {"datum": 1120}, "y": {"datum": 14.0}, "text": {"field": "label"}}},
        {"data": {"values": [{"label": "area averaged elevation=1310 m"}]}, "mark": {"type": "text", "align": "center", "baseline": "middle", "fontSize": 15.5}, "encoding": {"x": {"datum": 1100}, "y": {"datum": 10.5}, "text": {"field": "label"}}}
      ]
    },
    {
      "width": 323, "height": 87,
      "title": {"text": "Area altitude distribution", "offset": 17},
      "layer": [
        {"data": {"name": "area"}, "mark": {"type": "line", "color": "#8a8ada", "strokeWidth": 1.6},
         "encoding": {
           "x": {"field": "elev", "type": "quantitative", "scale": {"domain": [25, 3150], "nice": false, "zero": false}, "axis": {"values": [500, 1000, 1500, 2000, 2500, 3000], "title": "Elevation/m", "labelPadding": 15, "titlePadding": 2}},
           "y": {"field": "area", "type": "quantitative", "scale": {"domain": [0, 17.5], "nice": false}, "axis": {"values": [0, 10], "title": "Area/km²", "titlePadding": 12}},
           "detail": {"field": "seg"}}},
        {"data": {"values": [{"label": "columbia total area=737 km²"}]}, "mark": {"type": "text", "align": "center", "baseline": "middle", "fontSize": 15.5}, "encoding": {"x": {"datum": 1120}, "y": {"datum": 14.0}, "text": {"field": "label"}}},
        {"data": {"values": [{"label": "area averaged elevation=1310 m"}]}, "mark": {"type": "text", "align": "center", "baseline": "middle", "fontSize": 15.5}, "encoding": {"x": {"datum": 1100}, "y": {"datum": 10.5}, "text": {"field": "label"}}}
      ]
    },
    {
      "width": 323, "height": 87,
      "title": {"text": "Area altitude distribution", "offset": 17},
      "layer": [
        {"data": {"name": "area"}, "mark": {"type": "line", "color": "#8a8ada", "strokeWidth": 1.6},
         "encoding": {
           "x": {"field": "elev", "type": "quantitative", "scale": {"domain": [25, 3150], "nice": false, "zero": false}, "axis": {"values": [500, 1000, 1500, 2000, 2500, 3000], "title": "Elevation/m", "labelPadding": 15, "titlePadding": 2}},
           "y": {"field": "area", "type": "quantitative", "scale": {"domain": [0, 17.5], "nice": false}, "axis": {"values": [0, 10], "title": "Area/km²", "titlePadding": 12}},
           "detail": {"field": "seg"}}},
        {"data": {"values": [{"label": "columbia total area=737 km²"}]}, "mark": {"type": "text", "align": "center", "baseline": "middle", "fontSize": 15.5}, "encoding": {"x": {"datum": 1150}, "y": {"datum": 14.0}, "text": {"field": "label"}}},
        {"data": {"values": [{"label": "area averaged elevation=1310 m"}]}, "mark": {"type": "text", "align": "center", "baseline": "middle", "fontSize": 15.5}, "encoding": {"x": {"datum": 1100}, "y": {"datum": 10.5}, "text": {"field": "label"}}}
      ]
    }
  ]
}
